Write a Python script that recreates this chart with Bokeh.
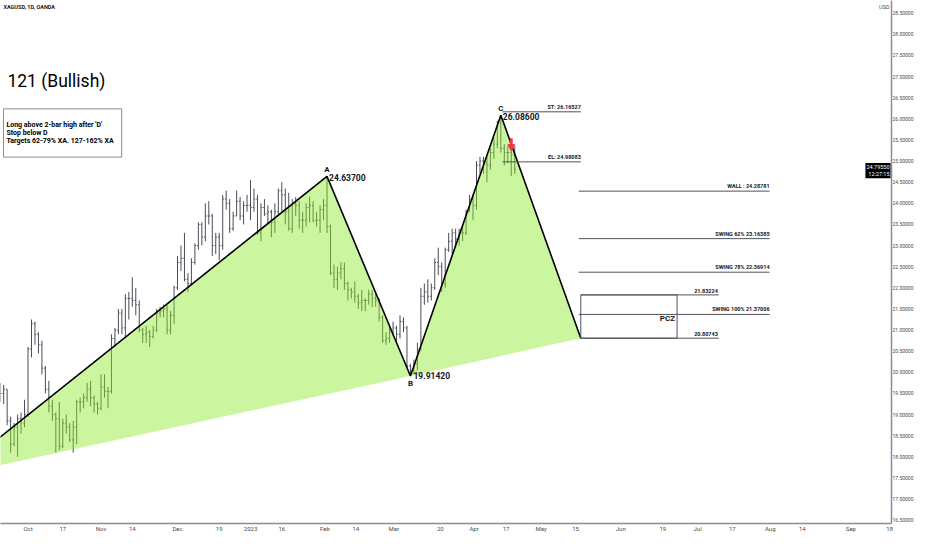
from bokeh.plotting import figure
from bokeh.models import FixedTicker, PrintfTickFormatter, Label, Range1d
from bokeh.embed import file_html
from bokeh.resources import INLINE

# ---------------- data ----------------
first_bar = -8   # bar index of the first visible bar (index 0 = 3 Oct 2022)
opens = [19.55,19.50,19.60,18.85,18.30,18.70,18.90,18.80,
         19.00,20.55,21.15,20.90,20.65,20.10,19.60,19.20,19.00,18.90,
         18.25,18.80,18.70,18.40,18.70,19.30,19.30,19.40,19.60,19.40,19.25,
         19.15,19.65,19.55,19.55,20.80,21.00,21.40,21.05,21.75,
         21.75,21.70,21.60,21.00,20.90,20.95,20.85,21.00,21.40,21.45,21.50,21.00,21.35,
         22.00,22.60,22.70,22.20,22.10,22.60,23.00,23.50,23.20,23.70,23.70,23.00,
         23.20,23.00,24.10,24.00,23.40,23.70,24.05,23.70,23.95,
         23.95,23.90,24.10,23.30,23.90,23.75,23.80,23.55,23.80,
         24.30,24.20,23.80,23.40,24.00,23.95,23.60,23.60,23.90,23.95,23.60,23.60,
         23.85,23.95,23.45,22.35,22.20,22.35,22.45,22.10,
         21.95,21.90,21.80,21.65,21.70,21.70,21.85,21.75,21.70,21.30,20.75,20.80,
         20.95,21.05,20.90,21.20,21.05,20.15,20.05,20.20,
         20.55,21.80,21.90,21.80,22.00,22.60,22.50,22.10,22.90,23.10,23.30,23.15,23.30,23.30,23.80,
         24.10,23.95,24.90,25.00,24.95,24.90,25.20,25.40,25.90,25.30,25.20,25.20,25.15]
highs = [19.75,19.70,19.60,18.95,18.80,19.00,19.05,19.35,
         20.60,21.25,21.20,20.95,20.75,20.15,19.80,19.35,19.05,19.30,
         18.90,19.00,18.80,18.85,19.35,19.40,19.50,19.75,19.80,19.45,19.30,
         19.95,19.95,19.65,20.90,21.05,21.50,21.50,21.85,21.90,
         22.25,22.00,21.70,21.05,21.10,21.00,21.10,21.50,21.55,21.60,21.60,21.45,22.05,
         22.75,23.00,23.30,22.35,22.70,23.05,23.55,23.55,24.00,24.05,23.75,23.30,
         23.30,24.20,24.30,24.10,23.80,24.30,24.15,24.05,24.20,
         24.55,24.35,24.20,24.00,24.10,23.95,23.85,24.00,24.35,
         24.50,24.35,24.25,24.10,24.15,24.05,23.80,24.00,24.15,24.05,23.80,23.95,
         24.10,24.637,23.50,22.55,22.50,22.60,22.60,22.15,
         22.00,22.15,21.85,21.95,21.75,21.95,21.95,21.85,21.75,21.35,20.95,21.10,
         21.20,21.10,21.35,21.30,21.10,20.20,20.30,20.70,
         22.00,22.10,22.20,22.10,22.70,22.95,22.60,22.95,23.30,23.40,23.40,23.40,23.50,23.85,24.20,
         24.20,25.00,25.10,25.10,25.15,25.30,25.55,25.95,26.086,25.40,25.35,25.30,25.35]
lows = [19.30,19.25,18.75,18.10,18.25,18.00,18.55,18.70,
        18.95,20.35,20.65,20.45,19.95,19.50,19.05,18.85,18.10,18.15,
        18.20,18.55,18.35,18.10,18.30,19.05,19.15,19.30,19.20,19.05,19.00,
        19.10,19.40,19.15,19.50,20.60,20.90,20.90,20.85,21.25,
        21.55,21.35,20.95,20.70,20.70,20.60,20.80,20.95,21.30,21.30,20.90,20.90,21.15,
        21.95,22.40,22.15,21.90,22.05,22.55,22.90,23.00,23.10,23.50,22.75,22.80,
        22.65,22.90,23.85,23.30,23.35,23.70,23.60,23.50,23.80,
        23.60,23.80,23.25,23.10,23.70,23.50,23.20,23.30,23.70,
        23.80,23.50,23.35,23.30,23.70,23.40,23.30,23.45,23.55,23.55,23.45,23.30,
        23.60,23.30,22.30,22.00,21.95,22.20,21.95,21.70,
        21.75,21.65,21.50,21.45,21.45,21.60,21.55,21.55,21.20,20.70,20.65,20.70,
        20.85,20.70,20.80,20.95,20.10,19.9142,19.95,20.05,
        20.50,21.60,21.65,21.70,21.95,22.30,21.90,22.00,22.85,22.80,22.95,23.00,23.10,23.25,23.80,
        23.60,23.85,24.70,24.70,24.50,24.80,25.05,25.30,25.20,24.90,24.95,24.65,24.70]
closes = [19.50,19.60,18.85,18.30,18.70,18.90,18.80,19.00,
          20.55,21.15,20.90,20.65,20.10,19.60,19.20,19.00,18.90,18.25,
          18.80,18.70,18.40,18.70,19.30,19.30,19.40,19.60,19.40,19.25,19.15,
          19.65,19.55,19.55,20.80,21.00,21.40,21.05,21.75,21.75,
          21.70,21.60,21.00,20.90,20.95,20.85,21.00,21.40,21.45,21.50,21.00,21.35,22.00,
          22.60,22.70,22.20,22.10,22.60,23.00,23.50,23.20,23.70,23.70,23.00,23.20,
          23.00,24.10,24.00,23.40,23.70,24.05,23.70,23.95,23.95,
          23.90,24.10,23.30,23.90,23.75,23.80,23.55,23.80,24.30,
          24.20,23.80,23.40,24.00,23.95,23.60,23.60,23.90,23.95,23.60,23.60,23.85,
          23.95,23.45,22.35,22.20,22.35,22.45,22.10,21.95,
          21.90,21.80,21.65,21.70,21.70,21.85,21.75,21.70,21.30,20.75,20.80,20.95,
          21.05,20.90,21.20,21.05,20.15,20.05,20.20,20.55,
          21.80,21.90,21.80,22.00,22.60,22.50,22.10,22.90,23.10,23.30,23.15,23.30,23.30,23.80,24.10,
          23.95,24.90,25.00,24.95,24.90,25.20,25.40,25.90,25.30,25.20,25.20,25.15,24.80]

pattern_names = ["X", "A", "B", "C", "D"]
pattern_idx = [-22, 86, 110, 136, 159]
pattern_price = [17.55, 24.637, 19.9142, 26.086, 20.80743]

st_level, el_level = 26.16527, 24.98083
target_names = ["WALL : ", "SWING 62% ", "SWING 78% ", "SWING 100% "]
target_levels = [24.28781, 23.16385, 22.36914, 21.37006]
pcz_top, pcz_bottom = 21.83224, 20.80743
signal_idx, signal_price = 139, 25.42
last_price, last_time = 24.7955, "12:27:15"

date_ticks = [0, 10, 21, 30, 43, 55, 64, 73, 85.4, 94.3, 105.2, 118.6, 128.3, 137.5,
              147.6, 157.5, 170.5, 182.6, 192.6, 202.6, 213.5, 222.7, 236.7, 247.8]
date_labels = ["Oct", "17", "Nov", "14", "Dec", "19", "2023", "16", "Feb", "14", "Mar", "20",
               "Apr", "17", "May", "15", "Jun", "19", "Jul", "17", "Aug", "14", "Sep", "18"]
price_ticks = [16.5, 17.0, 17.5, 18.0, 18.5, 19.0, 19.5, 20.0, 20.5, 21.0, 21.5, 22.0, 22.5,
               23.0, 23.5, 24.0, 24.5, 25.0, 25.5, 26.0, 26.5, 27.0, 27.5, 28.0, 28.5]

info_lines = ["Long above 2-bar high after 'D'", "Stop below D", "Targets 62-79% XA. 127-162%  XA"]

# ---------------- layout helpers ----------------
# reference picture geometry: bar 0 at x=27.7 px, 3.5 px per bar; 25.0 USD at y=163 px, 42.9 px per USD
REF_X0, PX_BAR = 27.7, 3.5
REF_Y25, PX_USD = 163.0, 42.9
REF_FRAME_W, REF_FRAME_H = 897, 531
W, H = 916, 534
RIGHT_PANEL, BOTTOM_PANEL = 22, 9


def xd(px):
    return (px - REF_X0) / PX_BAR


def yd(py):
    return 25.0 - (py - REF_Y25) / PX_USD


X_LEFT, X_RIGHT = xd(0), xd(REF_FRAME_W)
Y_TOP, Y_BOTTOM = yd(0), yd(REF_FRAME_H)

TEXT = "#131722"
FONT = "Roboto"

p = figure(width=W, height=H, output_backend="svg", toolbar_location=None,
           x_range=Range1d(X_LEFT, X_RIGHT), y_range=Range1d(Y_BOTTOM, Y_TOP),
           y_axis_location="right", min_border_left=0, min_border_top=0,
           min_border_right=RIGHT_PANEL, min_border_bottom=BOTTOM_PANEL)
p.grid.visible = False
p.outline_line_color = None
p.background_fill_color = "white"

# OHLC bars
idx = [first_bar + i for i in range(len(opens))]
bar_col = "#4a4d57"
p.segment(x0=idx, y0=lows, x1=idx, y1=highs, line_color=bar_col, line_width=1)
p.segment(x0=[i - 0.35 for i in idx], y0=opens, x1=idx, y1=opens, line_color=bar_col, line_width=1)
p.segment(x0=idx, y0=closes, x1=[i + 0.35 for i in idx], y1=closes, line_color=bar_col, line_width=1)

# pattern fill (drawn over the bars, translucent)
X, A, B, C, D = range(5)
FILL = "#8ee92c"
p.patch([pattern_idx[X], pattern_idx[A], pattern_idx[B]],
        [pattern_price[X], pattern_price[A], pattern_price[B]],
        fill_color=FILL, fill_alpha=0.45, line_color=None)
p.patch([pattern_idx[B], pattern_idx[C], pattern_idx[D]],
        [pattern_price[B], pattern_price[C], pattern_price[D]],
        fill_color=FILL, fill_alpha=0.45, line_color=None)
p.line(pattern_idx, pattern_price, line_color="black", line_width=1.6)


def add_label(x, y, text, size, align="left", baseline="middle", bold=False,
              color=TEXT, xo=0, yo=0, font=FONT, **kw):
    p.add_layout(Label(x=x, y=y, text=text, text_font_size=f"{size}px", text_align=align,
                       text_baseline=baseline, text_font_style="bold" if bold else "normal",
                       text_color=color, x_offset=xo, y_offset=yo, text_font=font, **kw))


# pattern point labels
for k in (A, C):
    add_label(pattern_idx[k], pattern_price[k], pattern_names[k], 8, "center", "bottom", True, yo=2)
    add_label(pattern_idx[k], pattern_price[k], f"{pattern_price[k]:.5f}", 8.5, "left", "middle",
              True, xo=2, yo=-1)
add_label(pattern_idx[B], pattern_price[B], "B", 8, "center", "top", True, yo=-3)
add_label(pattern_idx[B], pattern_price[B], f"{pattern_price[B]:.5f}", 8.5, "left", "middle",
          True, xo=3, yo=0)

# level lines
LVL = "#50535e"
lvl_start, lvl_end = 158.4, 213.3
p.segment(x0=[pattern_idx[C] + 0.5] * 2, x1=[pattern_idx[D]] * 2, y0=[st_level, el_level],
          y1=[st_level, el_level], line_color=LVL, line_width=1)
add_label(pattern_idx[D], st_level, f"ST: {st_level:.5f}", 5.5, "right", "bottom", True, yo=2)
add_label(pattern_idx[D], el_level, f"EL: {el_level:.5f}", 5.5, "right", "bottom", True, yo=2)

p.segment(x0=[lvl_start] * 4, x1=[lvl_end] * 4, y0=target_levels, y1=target_levels,
          line_color=LVL, line_width=1)
for nm, lv in zip(target_names, target_levels):
    add_label(lvl_end, lv, f"{nm}{lv:.5f}", 5.5, "right", "bottom", True, yo=2)

pcz_end, box_end = 198.7, 186.7
p.segment(x0=[pattern_idx[D]] * 2, x1=[pcz_end] * 2, y0=[pcz_top, pcz_bottom],
          y1=[pcz_top, pcz_bottom], line_color=LVL, line_width=1)
add_label(pcz_end, pcz_top, f"{pcz_top:.5f}", 5.5, "right", "bottom", True, xo=-1, yo=2)
add_label(pcz_end, pcz_bottom, f"{pcz_bottom:.5f}", 5.5, "right", "bottom", True, xo=-1, yo=2)
p.quad(left=[pattern_idx[D]], right=[box_end], top=[pcz_top], bottom=[pcz_bottom],
       fill_color=None, line_color=LVL, line_width=1)
add_label(box_end, (pcz_top + pcz_bottom) / 2, "PCZ", 8, "right", "middle", True, xo=-2, yo=-2)

# red signal arrow
p.segment(x0=[signal_idx], x1=[signal_idx], y0=[signal_price + 0.12], y1=[signal_price - 0.02],
          line_color="#f23645", line_width=3)
p.scatter([signal_idx], [signal_price - 0.08], marker="inverted_triangle", size=7,
          fill_color="#f23645", line_color="#f23645")

# title, info box, symbol
add_label(xd(7), yd(82), "121 (Bullish)", 17.5, "left", "middle", False, color="black")
add_label(xd(3), yd(7), "XAGUSD, 1D, OANDA", 5.5, "left", "middle", True)
p.quad(left=[xd(3)], right=[xd(122)], top=[yd(110)], bottom=[yd(159)],
       fill_color="white", line_color="#8a8d96", line_width=1)
for k, t in enumerate(info_lines):
    add_label(xd(6), yd(126 + 8.4 * k), t, 7, "left", "middle", True, color="black")

# axes
xax = p.xaxis[0]
xax.ticker = FixedTicker(ticks=date_ticks)
xax.major_label_overrides = {t: l for t, l in zip(date_ticks, date_labels)}
xax.major_label_text_font_size = "6px"
xax.major_label_text_color = "#4a4a4a"
xax.major_label_text_font = FONT
xax.major_tick_out = 0
xax.major_tick_in = 0
xax.minor_tick_out = 0
xax.minor_tick_in = 0
xax.axis_line_color = "#8a8d96"
xax.axis_line_width = 1.5
xax.major_label_standoff = 1

yax = p.yaxis[0]
yax.ticker = FixedTicker(ticks=price_ticks)
yax.formatter = PrintfTickFormatter(format="%.5f")
yax.major_label_text_font_size = "5px"
yax.major_label_text_color = "#4a4a4a"
yax.major_label_text_font = FONT
yax.major_tick_out = 0
yax.major_tick_in = 0
yax.minor_tick_out = 0
yax.minor_tick_in = 0
yax.axis_line_color = "#8a8d96"
yax.axis_line_width = 1.5
yax.major_label_standoff = 1

# currency and last price tag, kept just inside the frame's right edge
add_label(X_RIGHT, Y_TOP, "USD", 5.5, "right", "top", False, color="#4a4a4a", xo=-2, yo=-3)
add_label(X_RIGHT, last_price, f"{last_price:.5f}\n{last_time}", 5.5, "right", "middle", False,
          color="white", xo=-1, yo=-1, background_fill_color="black", padding=1)

open("out.html", "w").write(file_html(p, INLINE))
